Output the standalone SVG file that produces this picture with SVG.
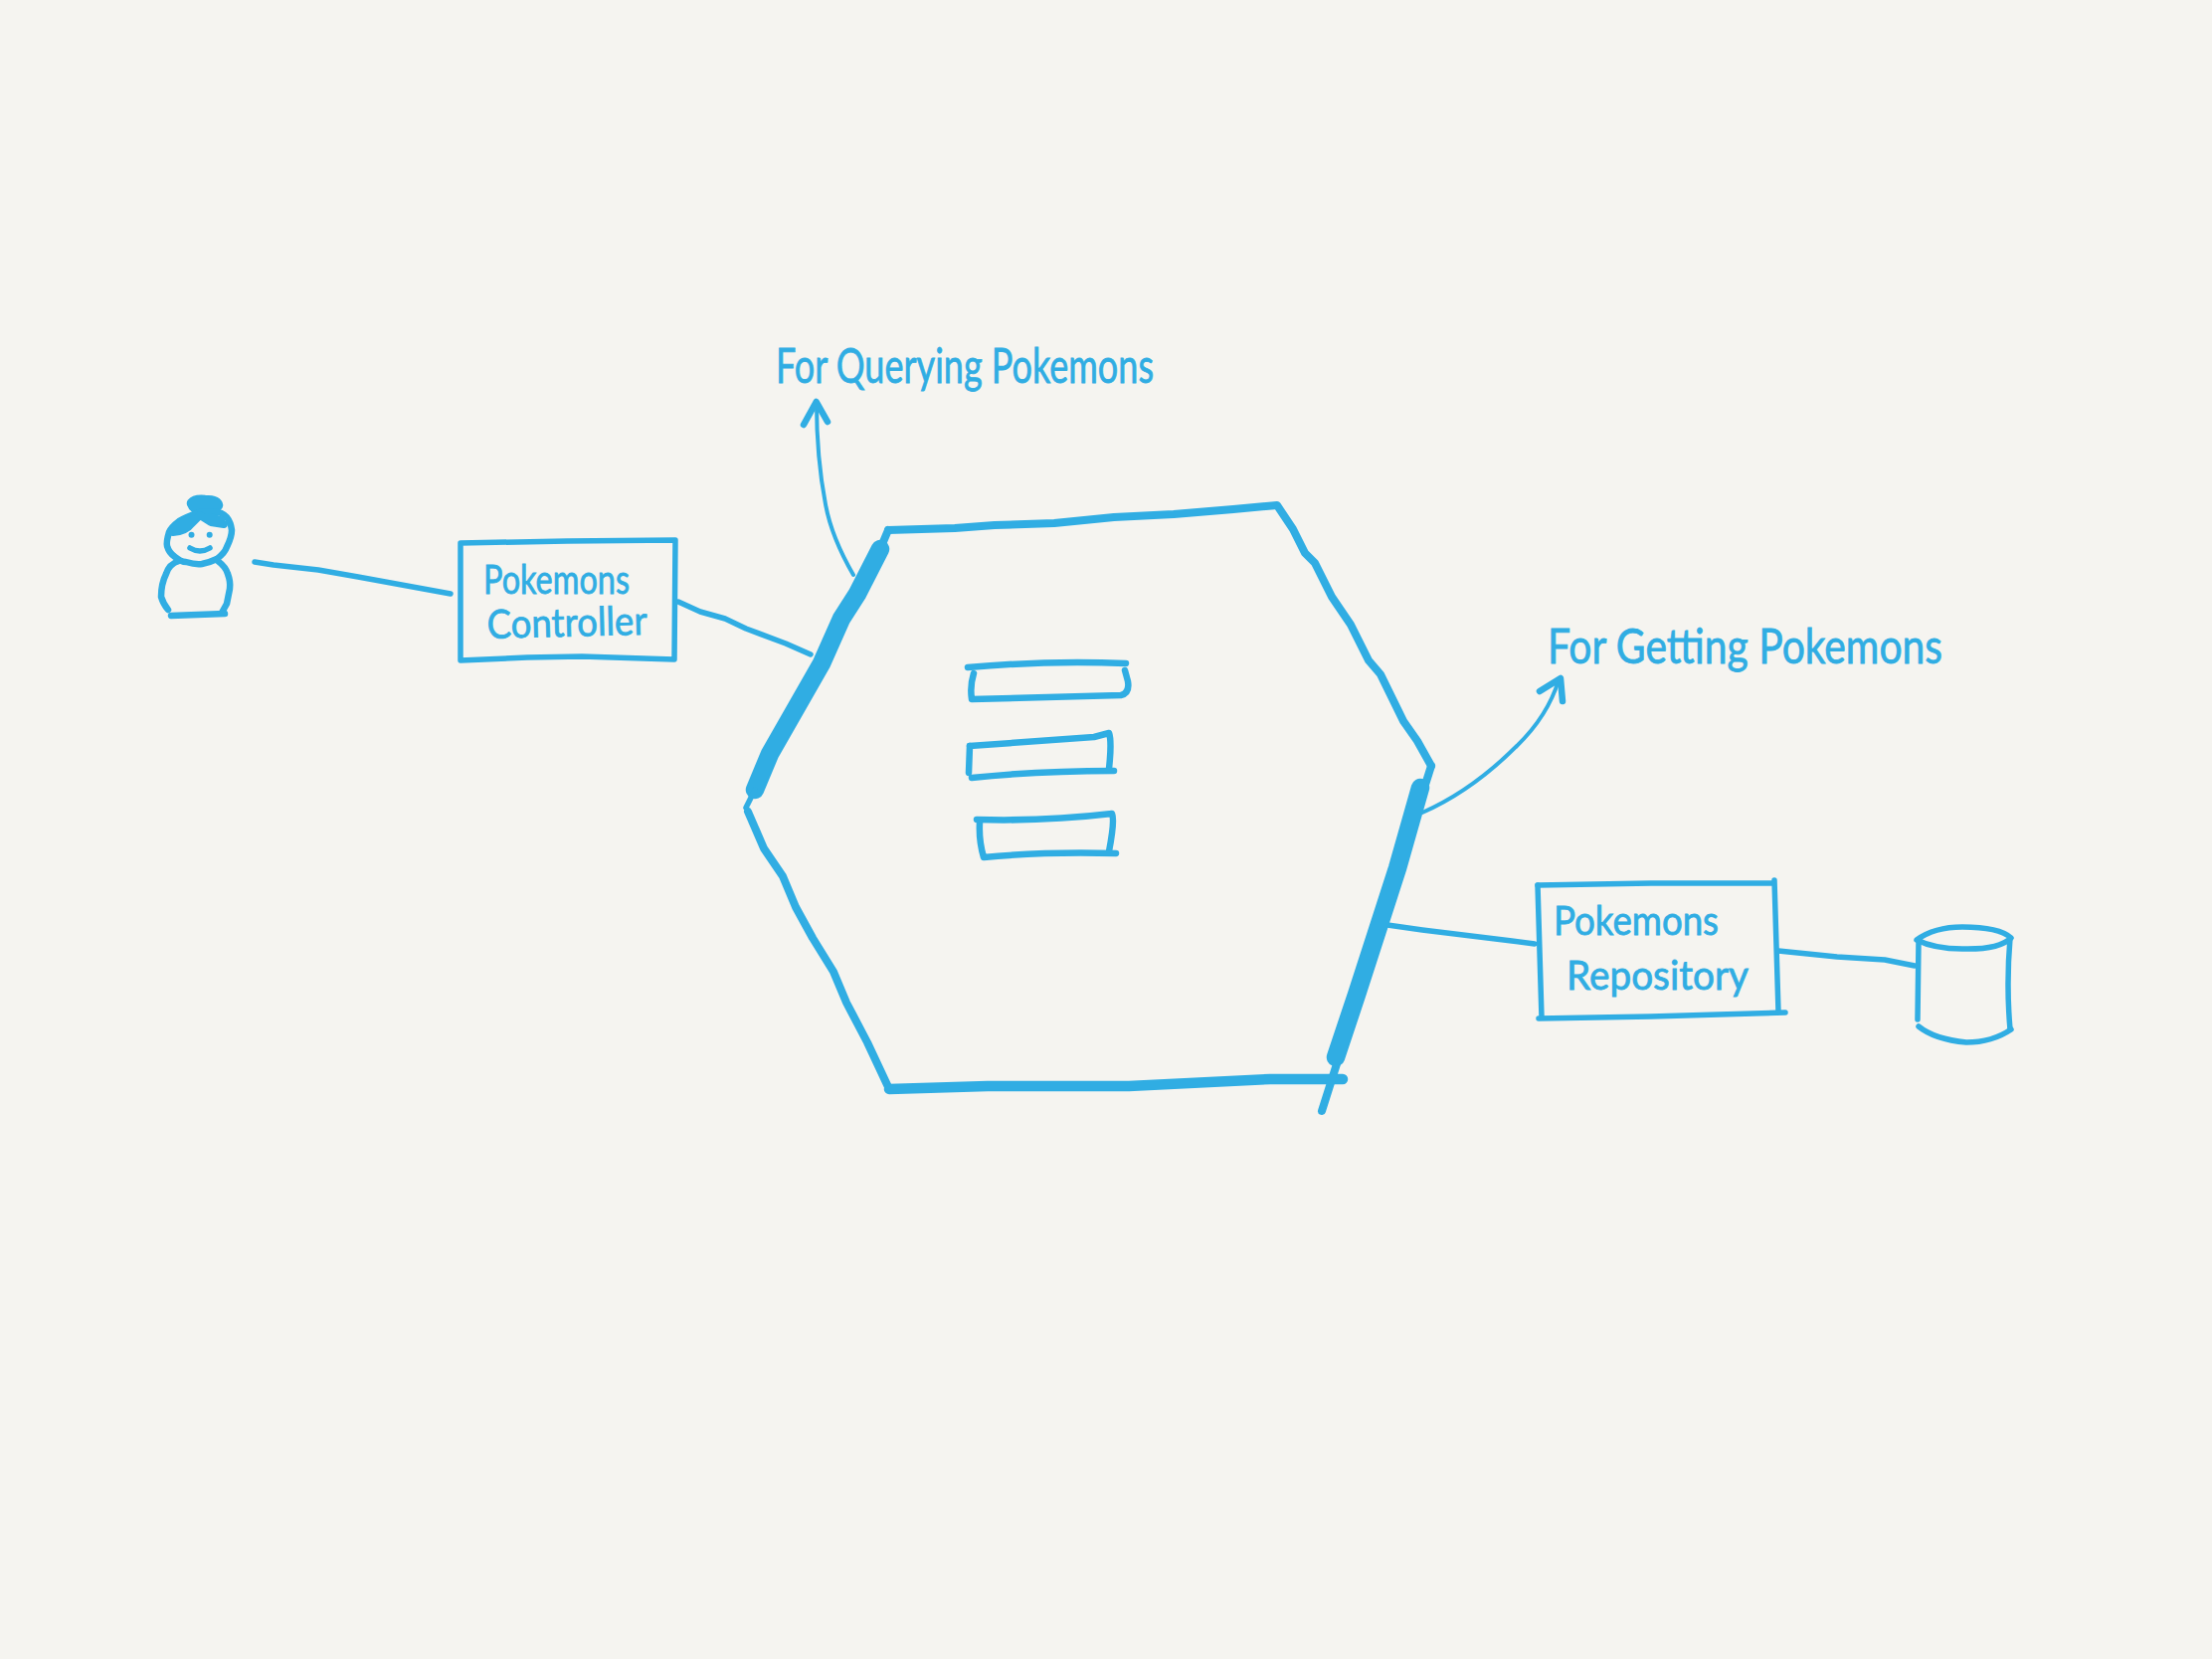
<svg xmlns="http://www.w3.org/2000/svg" width="2224" height="1668" viewBox="0 0 2224 1668">
<style>
.s{fill:none;stroke:#30ADE3;stroke-linecap:round;stroke-linejoin:round}
.w4{stroke-width:4}
.w5{stroke-width:5.500}
.w6{stroke-width:6.500}
.w7{stroke-width:8}
.w10{stroke-width:10.500}
.w16{stroke-width:18.500}
.t{fill:#30ADE3;stroke:#30ADE3;stroke-width:.8;font-family:"Lato","Liberation Sans",sans-serif;font-weight:400}
</style>
<rect width="2224" height="1668" fill="#F5F4F0"/>
<g id="connectors">
<path class="s w5" d="M256 565 L275 568 L320 573 L360 580 L453 597"/>
<path class="s w5" d="M682 605 L704 615 L729 622 L750 632 L790 647 L815 658"/>
<path class="s w4" d="M858 578 Q836 540 830 507 Q821 460 821 405"/>
<path class="s w6" d="M808 427 L820.700 404 L832 424"/>
<path class="s w4" d="M1430 817 Q1480 795 1525 750 Q1556 720 1567 684"/>
<path class="s w6" d="M1548 695 L1569 682 L1571 705"/>
<path class="s w5" d="M1395 930 L1430 935 L1520 946 L1543 949"/>
<path class="s w5" d="M1788 956 L1847 962 L1895 965 L1925 971"/>
</g>
<g id="actor">
<path class="s w10" fill="#30ADE3" d="M193 506 Q196 502 206 503 Q218 503 219 508 Q216 513 205 513 Q195 513 193 506Z"/>
<path class="s w6" d="M201 515 Q186 520 180 524 Q172 530 170 535 Q167 545 168 549 Q170 556 176 560 Q182 565 187 565 Q197 568 203 567 Q212 565 218 562 Q226 556 228 550 Q233 540 233 533 Q232 525 228 520 Q222 514 214 515 L201 515"/>
<path class="s w7" d="M174 535 Q187 534 192 527 L201 518 L212 525 L225 527 M176 530 L192 521 M212 520 L222 523"/>
<circle cx="192.500" cy="537.700" r="3" fill="#30ADE3"/>
<circle cx="210.700" cy="537.700" r="3" fill="#30ADE3"/>
<path class="s w5" d="M191 551 Q201 557 211 551"/>
<path class="s w6" d="M180 564 Q170 567 167 577 Q162 587 162 600 Q164 607 169 613"/>
<path class="s w6" d="M219 564 Q227 570 229 577 Q232 585 231 592 L228 607 L223 616"/>
<path class="s w6" d="M172 619 L226 617"/>
</g>
<g id="pokemons-controller">
<path class="s w5" d="M463 546 L570 544 L679 543 L678 663 L585 660 L530 661 L463 664 L463 546"/>
<text class="t" font-size="40" x="486" y="597" textLength="147" lengthAdjust="spacingAndGlyphs">Pokemons</text>
<text class="t" font-size="40" x="490" y="642" textLength="161" lengthAdjust="spacingAndGlyphs" transform="rotate(-1.500 490 642)">Controller</text>
</g>
<g id="hexagon">
<path class="s w7" d="M893 533 L960 531 L1000 528 L1060 526 L1120 520 L1180 517 L1240 512 L1284 508 L1300 532 L1312 556 L1322 566 L1339 600 L1358 628 L1376 664 L1388 678 L1411 725 L1425 745 L1439 770"/>
<path class="s w7" d="M885 552 L893 533"/>
<path class="s w16" d="M885 552 L862 597 L846 622 L826 667 L790 730 L774 758 L759 794"/>
<path class="s w5" d="M759 794 L750 812"/>
<path class="s w7" d="M752 816 L768 853 L787 881 L800 912 L817 943 L838 977 L851 1008 L872 1048 L894 1095"/>
<path class="s w10" d="M894 1095 L993 1092 L1135 1092 L1277 1085 L1350 1085"/>
<path class="s w7" d="M1439 770 L1329 1117"/>
<path class="s w16" d="M1428 792 L1405 873 L1385 935 L1364 1000 L1343 1063"/>
</g>
<g id="list-icon">
<path class="s w6" d="M973 671 Q1050 664 1132 667"/>
<path class="s w6" d="M979 677 Q975 690 977 703 L1127 699 Q1136 697 1134 685 L1131 674"/>
<path class="s w6" d="M975 750 L1100 741 L1115 737 Q1118 745 1115 773"/>
<path class="s w6" d="M975 750 L974 777"/>
<path class="s w6" d="M977 782 Q1045 775 1120 775"/>
<path class="s w6" d="M982 824 Q1050 826 1118 818 Q1121 825 1115 856"/>
<path class="s w6" d="M985 827 Q984 845 989 862 Q1050 856 1122 858"/>
</g>
<g id="label-querying">
<text class="t" font-size="48" x="780" y="385" textLength="380" lengthAdjust="spacingAndGlyphs">For Querying Pokemons</text>
</g>
<g id="label-getting">
<text class="t" font-size="48" x="1556" y="667" textLength="397" lengthAdjust="spacingAndGlyphs">For Getting Pokemons</text>
</g>
<g id="pokemons-repository">
<path class="s w5" d="M1546 890 L1660 888 L1783 888"/>
<path class="s w5" d="M1784 885 L1788 1017"/>
<path class="s w5" d="M1546 890 L1550 1023"/>
<path class="s w5" d="M1547 1024 L1660 1022 L1795 1018"/>
<text class="t" font-size="40" x="1562" y="940" textLength="166" lengthAdjust="spacingAndGlyphs">Pokemons</text>
<text class="t" font-size="40" x="1575" y="995" textLength="183" lengthAdjust="spacingAndGlyphs">Repository</text>
</g>
<g id="database">
<path class="s w5" d="M1927 945 Q1945 932 1973 932 Q2010 932 2022 943 Q2010 955 1973 954 Q1945 954 1927 945Z"/>
<path class="s w5" d="M1929 947 L1928 1025"/>
<path class="s w5" d="M2021 943 Q2017 990 2021 1035"/>
<path class="s w5" d="M1929 1032 Q1945 1045 1977 1048 Q2003 1048 2022 1035"/>
</g>
</svg>
